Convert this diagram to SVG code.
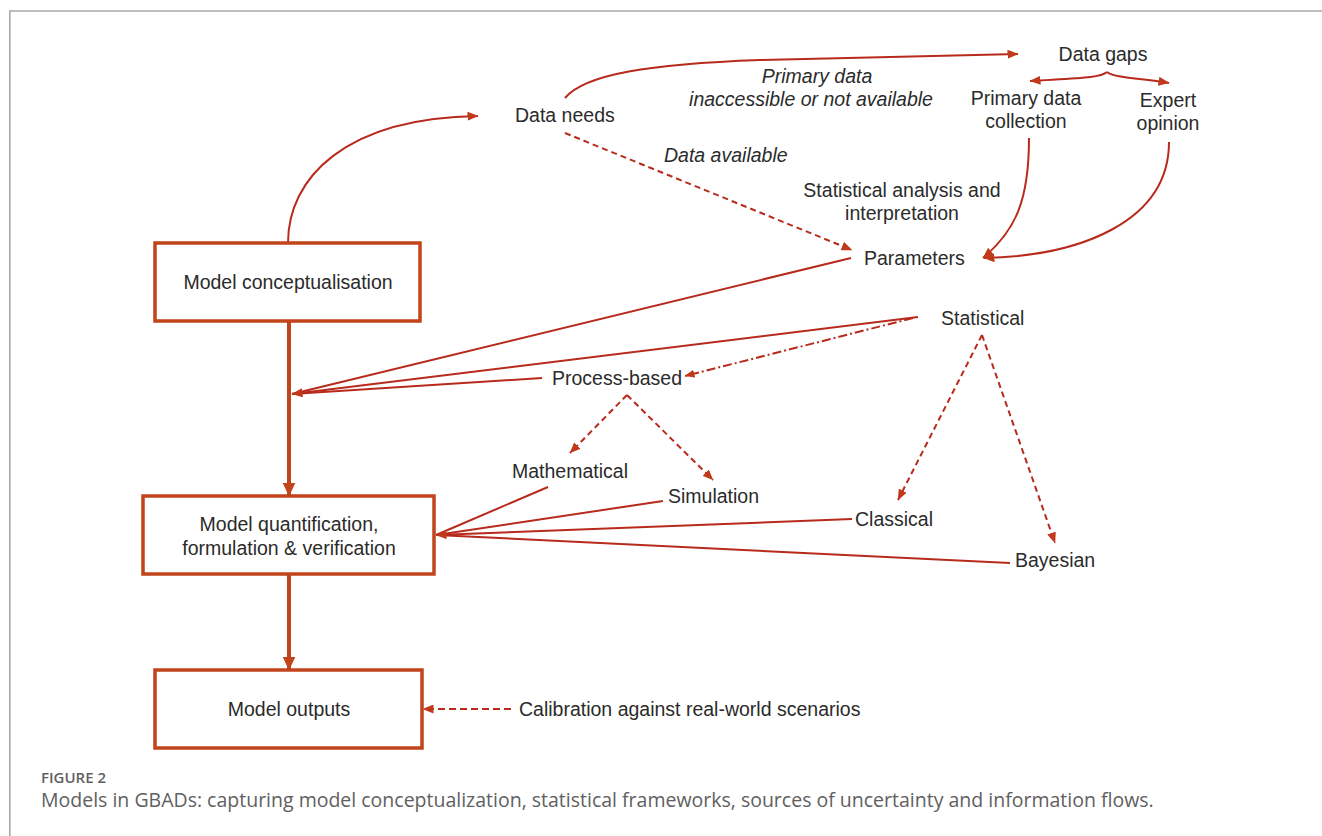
<svg xmlns="http://www.w3.org/2000/svg" width="1322" height="836" viewBox="0 0 1322 836">
<style>
.t{font-family:"Liberation Sans",Arial,sans-serif;font-size:19.5px;fill:#2b2b2b}
.i{font-style:italic}
.m{text-anchor:middle}
.box{fill:#fff;stroke:#c1441a;stroke-width:3.5}
.c{fill:none;stroke:#b72a1c;stroke-width:2}
.d{stroke-dasharray:6 4}
.thick{fill:none;stroke:#c1441a;stroke-width:4}
.frame{stroke:#a8a8a8;stroke-width:1.6;fill:none}
.cap{font-family:"Open Sans","Noto Sans",sans-serif;fill:#606060}
</style>
<defs>
<marker id="ah" markerUnits="userSpaceOnUse" markerWidth="11" markerHeight="9" refX="10.5" refY="4.5" orient="auto">
<path d="M0,0 L11,4.5 L0,9 z" fill="#c0391a"/>
</marker>
<marker id="ahs" markerUnits="userSpaceOnUse" markerWidth="10" markerHeight="8" refX="9.5" refY="4" orient="auto">
<path d="M0,0 L10,4 L0,8 z" fill="#c0391a"/>
</marker>
<marker id="ahb" markerUnits="userSpaceOnUse" markerWidth="14" markerHeight="13" refX="13.5" refY="6.5" orient="auto">
<path d="M0,0 L14,6.5 L0,13 z" fill="#c1441a"/>
</marker>
</defs>

<path class="frame" d="M9.8,836 L9.8,11 L1322,11"/>

<g id="connectors">
<path class="thick" d="M289,322 L289,496" marker-end="url(#ahb)"/>
<path class="thick" d="M289,575 L289,670" marker-end="url(#ahb)"/>
<path class="c" d="M288,243 C288,178 345,118 478,116" marker-end="url(#ah)"/>
<path class="c" d="M565,98 C585,74 650,64 760,60 L1018,54" marker-end="url(#ah)"/>
<path class="c d" stroke-width="2.3" stroke-dasharray="5 3.5" d="M565,133 L852,250" marker-end="url(#ah)"/>
<path class="c" d="M1107,72 C1100,78 1080,78 1030,81" marker-end="url(#ah)"/>
<path class="c" d="M1107,72 C1114,78 1140,78 1169,83" marker-end="url(#ah)"/>
<path class="c" d="M1029,138 C1029,200 1016,230 983,258" marker-end="url(#ah)"/>
<path class="c" d="M1169,142 C1169,222 1080,256 984,258" marker-end="url(#ah)"/>
<path class="c" d="M851,258 L292,394"/>
<path class="c" d="M542,378 L292,394"/>
<path class="c" d="M918,317 L292,394" marker-end="url(#ah)"/>
<path class="c" d="M913,318 L685,376" stroke-width="1.5" stroke-dasharray="9 3 2 3" marker-end="url(#ahs)"/>
<path class="c d" stroke-width="2.6" d="M627,395 L570,453" marker-end="url(#ah)"/>
<path class="c d" stroke-width="2.6" d="M627,395 L713,480" marker-end="url(#ah)"/>
<path class="c d" stroke-width="2.6" d="M982,335 L898,500" marker-end="url(#ah)"/>
<path class="c d" stroke-width="2.6" d="M982,335 L1055,543" marker-end="url(#ah)"/>
<path class="c" d="M548,487 L436,535"/>
<path class="c" d="M663,501 L436,535"/>
<path class="c" d="M1010,563 L436,535"/>
<path class="c" d="M852,519 L436,535" marker-end="url(#ah)"/>
<path class="c" stroke-width="2.5" stroke-dasharray="7 4" d="M511,709 L423,709" marker-end="url(#ah)"/>
</g>

<g id="model-conceptualisation">
<rect class="box" x="155" y="243" width="265" height="78"/>
<text class="t m" x="288" y="289">Model conceptualisation</text>
</g>
<g id="model-quantification">
<rect class="box" x="143" y="496" width="291" height="78"/>
<text class="t m" x="289" y="531">Model quantification,</text>
<text class="t m" x="289" y="555">formulation &amp; verification</text>
</g>
<g id="model-outputs">
<rect class="box" x="155" y="670" width="267" height="78"/>
<text class="t m" x="289" y="716">Model outputs</text>
</g>
<g id="data-needs"><text class="t" x="515" y="122">Data needs</text></g>
<g id="label-primary"><text class="t i m" x="817" y="83">Primary data</text>
<text class="t i m" x="811" y="106">inaccessible or not available</text></g>
<g id="label-available"><text class="t i" x="664" y="162">Data available</text></g>
<g id="data-gaps"><text class="t m" x="1103" y="61">Data gaps</text></g>
<g id="primary-data-collection"><text class="t m" x="1026" y="105">Primary data</text>
<text class="t m" x="1026" y="128">collection</text></g>
<g id="expert-opinion"><text class="t m" x="1168" y="107">Expert</text>
<text class="t m" x="1168" y="130">opinion</text></g>
<g id="label-stat-analysis"><text class="t m" x="902" y="197">Statistical analysis and</text>
<text class="t m" x="902" y="220">interpretation</text></g>
<g id="parameters"><text class="t" x="864" y="265">Parameters</text></g>
<g id="statistical"><text class="t" x="941" y="325">Statistical</text></g>
<g id="process-based"><text class="t" x="552" y="385">Process-based</text></g>
<g id="mathematical"><text class="t" x="512" y="478">Mathematical</text></g>
<g id="simulation"><text class="t" x="668" y="503">Simulation</text></g>
<g id="classical"><text class="t" x="855" y="526">Classical</text></g>
<g id="bayesian"><text class="t" x="1015" y="567">Bayesian</text></g>
<g id="calibration"><text class="t" x="519" y="716">Calibration against real-world scenarios</text></g>

<g id="caption">
<text class="cap" x="41" y="783" font-size="15" font-weight="600" fill="#777">FIGURE 2</text>
<text class="cap" x="41" y="807" font-size="19.5">Models in GBADs: capturing model conceptualization, statistical frameworks, sources of uncertainty and information flows.</text>
</g>
</svg>
